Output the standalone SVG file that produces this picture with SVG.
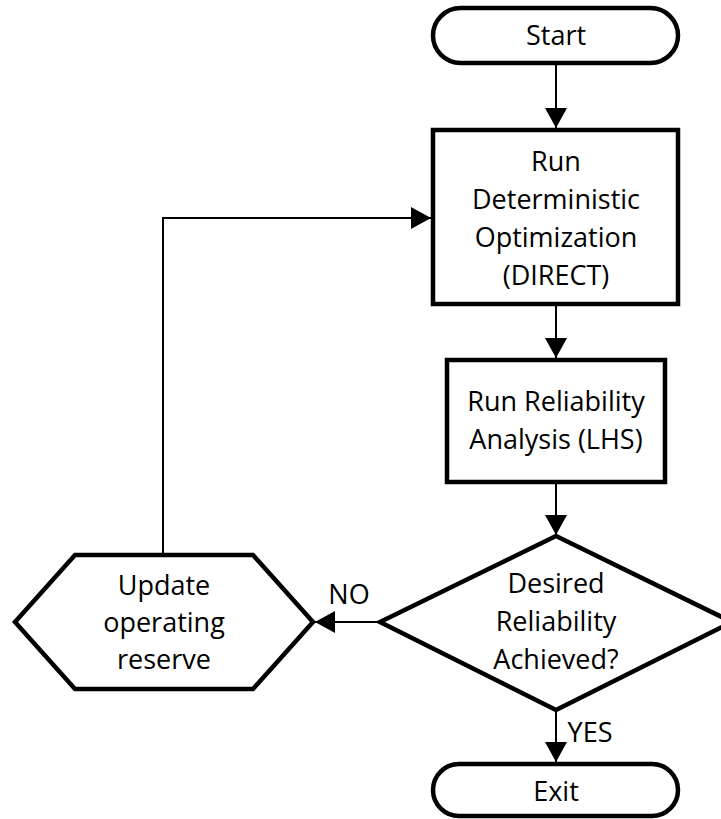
<svg xmlns="http://www.w3.org/2000/svg" width="721" height="819" viewBox="0 0 721 819">
  <style>
    .shape { fill: #ffffff; stroke: #000000; stroke-width: 4.5; stroke-linejoin: miter; }
    .conn { fill: none; stroke: #000000; stroke-width: 2; }
    .lbl { font-family: "Open Sans", "Liberation Sans", sans-serif; font-size: 27px; fill: #000000; text-anchor: middle; }
  </style>
  <defs>
    <marker id="arrow" viewBox="0 0 20 22" refX="20" refY="11" markerWidth="20" markerHeight="22" markerUnits="userSpaceOnUse" orient="auto">
      <path d="M0,0 L20,11 L0,22 Z" fill="#000000"/>
    </marker>
  </defs>
  <rect width="721" height="819" fill="#ffffff"/>

  <g id="connectors">
    <path class="conn" d="M556,63 L556,128" marker-end="url(#arrow)"/>
    <path class="conn" d="M556,304 L556,358" marker-end="url(#arrow)"/>
    <path class="conn" d="M556,482 L556,535" marker-end="url(#arrow)"/>
    <path class="conn" d="M380,622 L315,622" marker-end="url(#arrow)"/>
    <path class="conn" d="M163,555 L163,218 L431,218" marker-end="url(#arrow)"/>
    <path class="conn" d="M556,710 L556,762" marker-end="url(#arrow)"/>
    <text class="lbl" x="349" y="604">NO</text>
    <text class="lbl" x="590" y="742">YES</text>
  </g>

  <g id="start">
    <rect class="shape" x="433" y="8" width="245" height="55" rx="27.5" ry="27.5"/>
    <text class="lbl" x="556" y="45">Start</text>
  </g>

  <g id="optimize">
    <rect class="shape" x="433" y="130" width="245" height="174"/>
    <text class="lbl" x="556" y="171">Run</text>
    <text class="lbl" x="556" y="209">Deterministic</text>
    <text class="lbl" x="556" y="247">Optimization</text>
    <text class="lbl" x="556" y="285">(DIRECT)</text>
  </g>

  <g id="reliability">
    <rect class="shape" x="447" y="360" width="218" height="122"/>
    <text class="lbl" x="556" y="411">Run Reliability</text>
    <text class="lbl" x="556" y="449">Analysis (LHS)</text>
  </g>

  <g id="decision">
    <polygon class="shape" points="556,536 732,622 556,710 380,622"/>
    <text class="lbl" x="556" y="593">Desired</text>
    <text class="lbl" x="556" y="631">Reliability</text>
    <text class="lbl" x="556" y="669">Achieved?</text>
  </g>

  <g id="update">
    <polygon class="shape" points="15,622 75,555 253,555 313,622 253,689 75,689"/>
    <text class="lbl" x="164" y="595">Update</text>
    <text class="lbl" x="164" y="632">operating</text>
    <text class="lbl" x="164" y="669">reserve</text>
  </g>

  <g id="exit">
    <rect class="shape" x="433" y="764" width="245" height="52" rx="26" ry="26"/>
    <text class="lbl" x="556" y="801">Exit</text>
  </g>
</svg>
